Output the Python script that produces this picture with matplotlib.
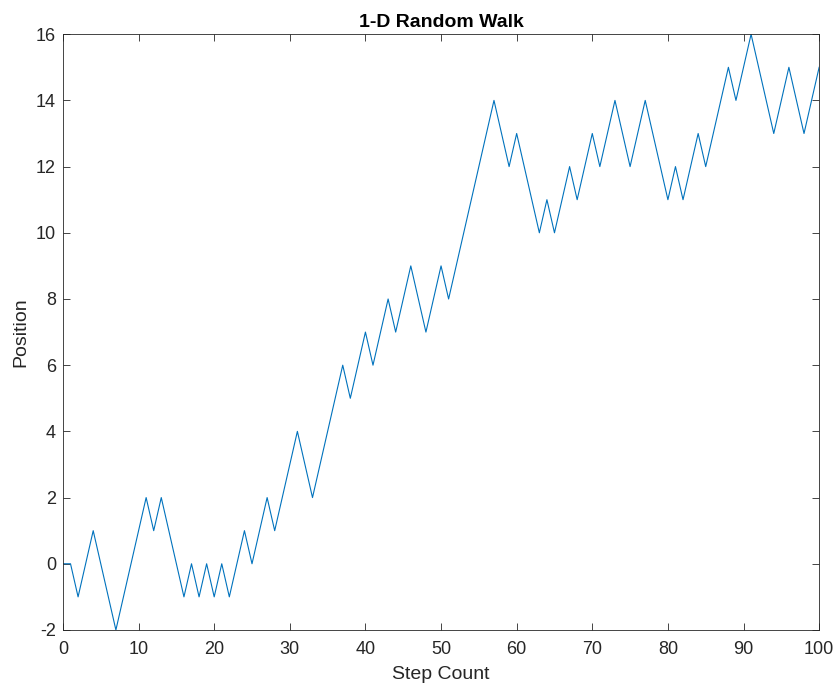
import matplotlib.pyplot as plt
import numpy as np

# --------------------------------------------------
# data (position after each step)
# --------------------------------------------------
steps = np.arange(0, 101)
position = [
    0, 0, -1, 0, 1, 0, -1, -2, -1, 0,
    1, 2, 1, 2, 1, 0, -1, 0, -1, 0,
    -1, 0, -1, 0, 1, 0, 1, 2, 1, 2,
    3, 4, 3, 2, 3, 4, 5, 6, 5, 6,
    7, 6, 7, 8, 7, 8, 9, 8, 7, 8,
    9, 8, 9, 10, 11, 12, 13, 14, 13, 12,
    13, 12, 11, 10, 11, 10, 11, 12, 11, 12,
    13, 12, 13, 14, 13, 12, 13, 14, 13, 12,
    11, 12, 11, 12, 13, 12, 13, 14, 15, 14,
    15, 16, 15, 14, 13, 14, 15, 14, 13, 14,
    15,
]

x_ticks = list(range(0, 101, 10))
y_ticks = list(range(-2, 17, 2))

# --------------------------------------------------
# MATLAB-like look
# --------------------------------------------------
plt.rcParams.update({
    "font.family": ["Liberation Sans", "DejaVu Sans"],
    "font.size": 13,
    "axes.unicode_minus": False,
})

axis_color = "#262626"

fig = plt.figure(figsize=(8.35, 6.84), dpi=100)
ax = fig.add_axes([0.0754, 0.079, 0.9056, 0.871])

ax.plot(steps, position, color="#0072BD", linewidth=0.8)

ax.set_xlim(0, 100)
ax.set_ylim(-2, 16)
ax.set_xticks(x_ticks)
ax.set_yticks(y_ticks)

ax.set_title("1-D Random Walk", fontweight="bold", fontsize=14, pad=5,
             color="black")
ax.set_xlabel("Step Count", fontsize=14, color=axis_color, labelpad=6)
ax.set_ylabel("Position", fontsize=14, color=axis_color, labelpad=5)

ax.tick_params(direction="in", top=True, right=True, length=5,
               width=0.6, colors=axis_color, labelsize=13)
ax.tick_params(axis="x", pad=8)
ax.tick_params(axis="y", pad=5)
for spine in ax.spines.values():
    spine.set_color(axis_color)
    spine.set_linewidth(0.6)

fig.savefig("out.png", dpi=100)
